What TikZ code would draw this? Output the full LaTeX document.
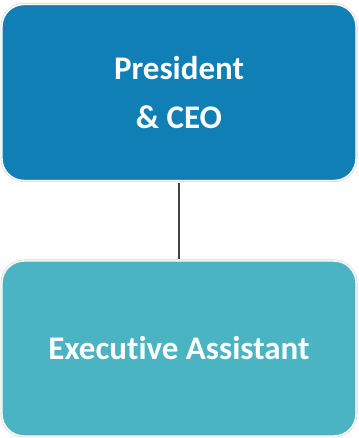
\documentclass[tikz,border=0pt]{standalone}
\usepackage{fontspec}
\setmainfont{Carlito}[Ligatures=NoCommon]
\usepackage{tikz}
\definecolor{ceoblue}{HTML}{0F7FB6}
\definecolor{assistteal}{HTML}{4BB4C2}
\begin{document}
\begin{tikzpicture}[x=1pt,y=1pt]
	\useasboundingbox (0,0) rectangle (358,438);
		\begin{scope}[every node/.style={rounded corners=22pt,minimum width=354pt,
              text=white,font=\fontsize{33}{49}\selectfont\bfseries,align=center,
              preaction={draw=black!14,line width=3pt},draw=white,line width=1.4pt}]
			\node[fill=ceoblue,minimum height=176pt] (ceo) at (179,345.5) {President\\\& CEO};
			\node[fill=assistteal,minimum height=175pt] (ea) at (179,89.5) {Executive Assistant};
		\end{scope}

	\begin{scope}[every edge/.style={draw=black!75,line width=2.2pt,shorten <=1.5pt,shorten >=1.5pt}]
  \path (ceo) edge (ea);
\end{scope}
\end{tikzpicture}
\end{document}
